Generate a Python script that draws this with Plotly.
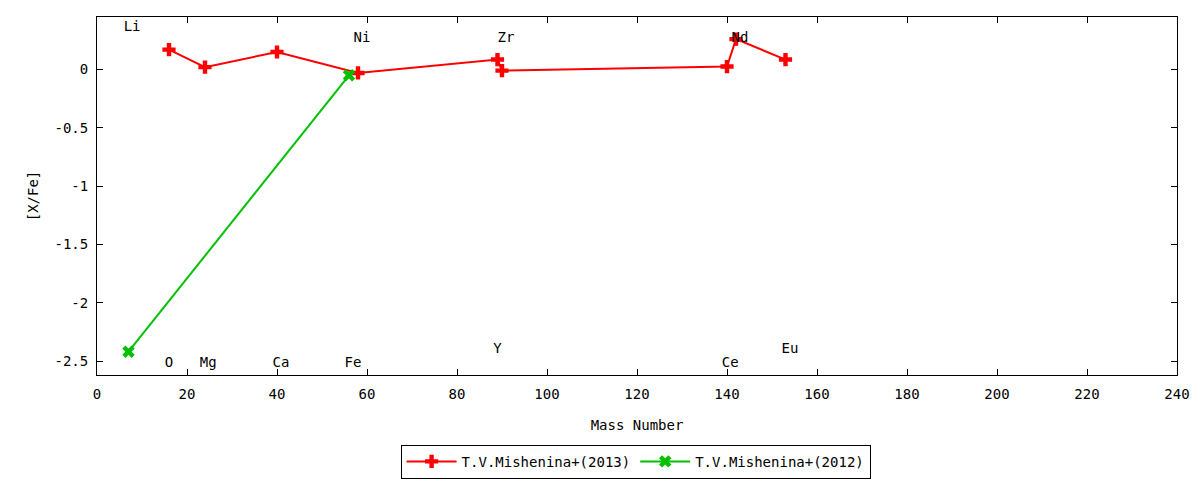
import plotly.graph_objects as go

# [X/Fe] vs mass number
mass_2013 = [16, 24, 40, 58, 89, 90, 140, 142, 153]
xfe_2013 = [0.17, 0.02, 0.15, -0.03, 0.085, -0.01, 0.025, 0.26, 0.085]

mass_2012 = [7, 56]
xfe_2012 = [-2.42, -0.05]

# element labels
elem_names = ["Li", "O", "Mg", "Ca", "Fe", "Ni", "Y", "Zr", "Ce", "Nd", "Eu"]
elem_x = [7.8, 16.0, 24.7, 40.9, 56.9, 58.9, 89.0, 90.9, 140.7, 142.9, 154.0]
elem_y = [0.36, -2.52, -2.52, -2.52, -2.52, 0.265, -2.40, 0.265, -2.52, 0.265, -2.40]

FONT = "DejaVu Sans Mono"

fig = go.Figure()
fig.add_trace(go.Scatter(
    x=mass_2013, y=xfe_2013, mode="lines+markers", name="T.V.Mishenina+(2013)",
    line=dict(color="#ff0000", width=2),
    marker=dict(symbol="cross", size=11, color="#ff0000"),
))
fig.add_trace(go.Scatter(
    x=mass_2012, y=xfe_2012, mode="lines+markers", name="T.V.Mishenina+(2012)",
    line=dict(color="#00c000", width=2),
    marker=dict(symbol="x", size=11, color="#00c000"),
))
fig.add_trace(go.Scatter(
    x=elem_x, y=elem_y, mode="text", text=elem_names, showlegend=False,
    textfont=dict(family=FONT, size=14, color="black"), hoverinfo="skip",
))

axis_common = dict(
    showgrid=False, zeroline=False, showline=True, linecolor="black", linewidth=1,
    mirror="ticks", ticks="inside", ticklen=6, tickcolor="black", automargin=False,
    tickfont=dict(family=FONT, size=14, color="black"),
)
fig.update_xaxes(range=[0, 240], dtick=20, ticklabelstandoff=6,
                 title=dict(text="Mass Number", font=dict(family=FONT, size=14), standoff=19),
                 **axis_common)
fig.update_yaxes(range=[-2.62, 0.45], tickvals=[0, -0.5, -1, -1.5, -2, -2.5],
                 ticktext=["0", "-0.5", "-1", "-1.5", "-2", "-2.5"], ticklabelstandoff=5,
                 title=dict(text="[X/Fe]", font=dict(family=FONT, size=14), standoff=12),
                 **axis_common)

fig.update_layout(
    width=1200, height=480,
    margin=dict(l=89, r=31, t=9, b=113),
    plot_bgcolor="white", paper_bgcolor="white",
    font=dict(family=FONT, size=14, color="black"),
    legend=dict(orientation="h", x=0.523, xanchor="center", xref="container",
                y=0.09, yanchor="top", yref="container",
                bordercolor="black", borderwidth=1, itemwidth=50,
                font=dict(family=FONT, size=14)),
)

fig.write_html("out.html")
